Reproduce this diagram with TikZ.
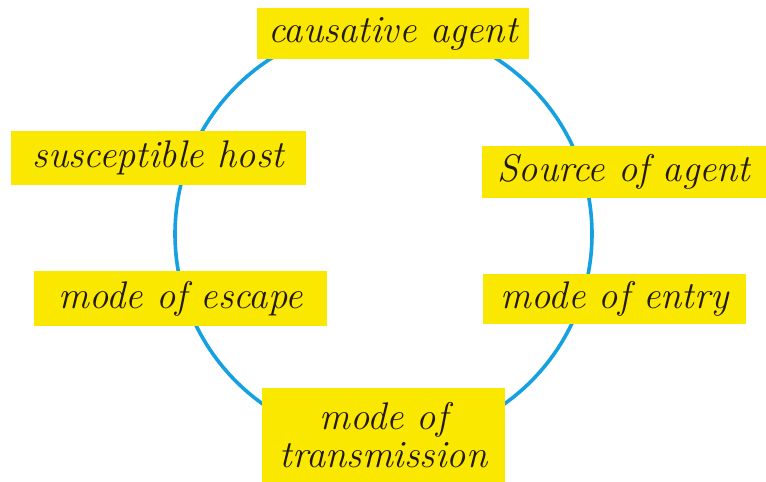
\documentclass[tikz,border=0pt]{standalone}
\usepackage{xcolor}
\definecolor{ringblue}{RGB}{20,160,225}
\definecolor{boxyellow}{RGB}{250,232,0}
\definecolor{ink}{RGB}{35,25,20}
\tikzset{
  label box/.style={rectangle, fill=boxyellow, inner sep=0pt, text=ink,
    font=\fontsize{38.5}{40}\selectfont\itshape, align=center},
  ring/.style={draw=ringblue, line width=3.6pt}
}
\begin{document}
\begin{tikzpicture}[x=1pt,y=-1pt]
\useasboundingbox (0,0) rectangle (766,482);
\coordinate (centre) at (383.5,234);
\draw[ring] (centre) circle[radius=208.5];
\node[label box, minimum width=272pt, minimum height=51pt] (cause) at (393,33.5) {causative agent};
\node[label box, minimum width=295pt, minimum height=54pt] (host) at (158.5,158) {susceptible host};
\node[label box, minimum width=284pt, minimum height=52pt] (source) at (624,172) {Source of agent};
\node[label box, minimum width=293pt, minimum height=55pt] (escape) at (180.5,298.5) {mode of escape};
\node[label box, minimum width=263pt, minimum height=50pt] (entry) at (614.5,299) {mode of entry};
\node[label box, minimum width=243pt, minimum height=94pt, text width=243pt] (trans) at (383.5,435) {mode of\\[-2pt]transmission};
\end{tikzpicture}
\end{document}
